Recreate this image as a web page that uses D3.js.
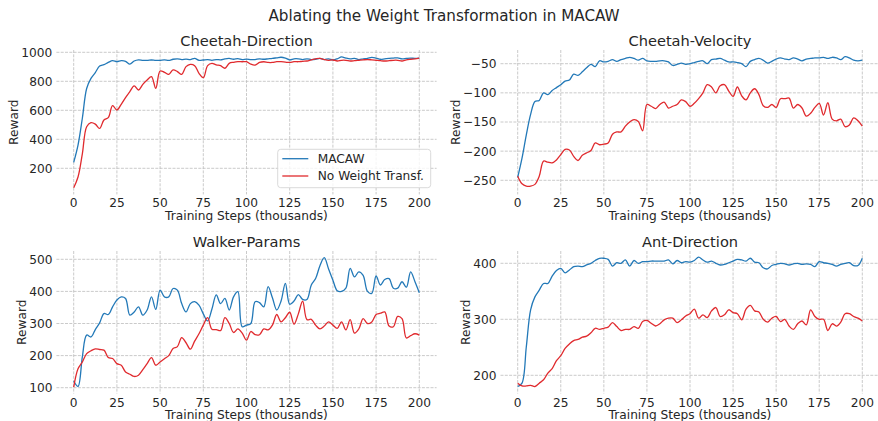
<!DOCTYPE html>
<html>
<head>
<meta charset="utf-8">
<script src="https://cdn.jsdelivr.net/npm/d3@7"></script>
<style>
  body { margin: 0; background: #fff; }
  text { font-family: "DejaVu Sans", sans-serif; fill: #262626; }
</style>
</head>
<body>
<div id="chart"></div>
<script>
// x positions of the logged points (thousands of training steps)
const steps = d3.range(0, 200.1, 2.5);
const xTicks = [0, 25, 50, 75, 100, 125, 150, 175, 200];
const seriesNames = ["MACAW", "No Weight Transf."];
const panelTitles = ["Cheetah-Direction", "Cheetah-Velocity", "Walker-Params", "Ant-Direction"];

// Cheetah-Direction
const cdMacaw = [241, 360, 545, 750, 820, 860, 905, 915, 930, 942,
  935, 942, 938, 918, 940, 948, 945, 944, 947, 944,
  945, 948, 944, 952, 955, 950, 953, 950, 958, 945,
  947, 950, 945, 950, 948, 955, 958, 952, 956, 950,
  953, 950, 950, 955, 952, 955, 958, 962, 966, 960,
  948, 955, 955, 950, 955, 950, 952, 958, 950, 955,
  948, 955, 968, 960, 955, 958, 950, 955, 958, 965,
  960, 952, 955, 958, 960, 962, 955, 958, 960, 958,
  960];
const cdNoWT = [66, 140, 300, 487, 515, 505, 475, 533, 549, 632,
  602, 641, 687, 729, 768, 740, 779, 809, 832, 752,
  871, 862, 848, 878, 867, 848, 901, 917, 908, 855,
  825, 908, 924, 913, 908, 890, 924, 931, 935, 935,
  935, 918, 912, 930, 935, 930, 930, 935, 935, 932,
  930, 935, 935, 938, 940, 948, 955, 958, 950, 945,
  947, 940, 945, 945, 940, 942, 945, 948, 950, 948,
  945, 942, 940, 942, 945, 945, 940, 948, 952, 955,
  960];
const yTicksCD = [200, 400, 600, 800, 1000];

// Cheetah-Velocity
const cvMacaw = [-245, -212, -172, -137, -115, -113, -100, -103, -96, -91,
  -86, -80, -78, -68, -70, -64, -57, -51, -55, -45,
  -47, -46, -43, -46, -43, -41, -39, -41, -44, -41,
  -45, -46, -46, -45, -45, -47, -53, -51, -49, -51,
  -50, -48, -46, -45, -50, -43, -42, -41, -44, -47,
  -47, -48, -50, -55, -46, -43, -41, -44, -49, -46,
  -42, -40, -42, -43, -40, -42, -45, -42, -41, -40,
  -40, -39, -41, -39, -40, -43, -38, -40, -44, -45,
  -44];
const cvNoWT = [-243, -256, -260, -260, -257, -243, -217, -219, -220, -215,
  -206, -197, -198, -209, -216, -207, -203, -199, -186, -189,
  -188, -186, -171, -167, -167, -157, -150, -146, -149, -165,
  -120, -123, -127, -120, -116, -126, -123, -120, -112, -115,
  -123, -118, -110, -100, -86, -90, -100, -88, -86, -97,
  -106, -90, -105, -112, -100, -93, -103, -122, -125, -120,
  -125, -110, -110, -109, -126, -120, -126, -140, -135, -125,
  -118, -138, -117, -145, -148, -145, -158, -155, -143, -148,
  -157];
const yTicksCV = [-250, -200, -150, -100, -50];

// Walker-Params
const wpMacaw = [121, 104, 196, 264, 258, 281, 302, 331, 328, 352,
  373, 383, 378, 326, 336, 352, 326, 342, 383, 344,
  404, 383, 383, 409, 404, 362, 336, 362, 368, 357,
  330, 308, 345, 389, 362, 378, 342, 383, 399, 290,
  295, 300, 368, 365, 352, 415, 380, 342, 370, 425,
  360, 370, 390, 375, 375, 420, 440, 480, 505, 470,
  435, 402, 400, 410, 472, 445, 461, 450, 400, 394,
  448, 420, 437, 440, 410, 410, 430, 413, 461, 430,
  396];
const wpNoWT = [102, 159, 180, 206, 215, 221, 219, 217, 194, 191,
  175, 170, 149, 142, 135, 139, 156, 175, 194, 170,
  180, 190, 200, 222, 228, 256, 240, 220, 245, 268,
  295, 318, 282, 281, 278, 318, 300, 272, 283, 270,
  248, 275, 265, 265, 283, 280, 295, 328, 305, 318,
  335, 298, 330, 370, 312, 313, 295, 283, 292, 305,
  295, 285, 305, 280, 312, 270, 283, 315, 300, 305,
  328, 332, 336, 292, 290, 322, 315, 255, 262, 268,
  264];
const yTicksWP = [100, 200, 300, 400, 500];

// Ant-Direction
const adMacaw = [180, 186, 251, 317, 340, 352, 364, 364, 377, 387,
  391, 383, 388, 394, 395, 394, 397, 400, 405, 409,
  409, 407, 395, 401, 400, 406, 395, 405, 400, 403,
  403, 404, 404, 404, 404, 406, 399, 405, 401, 403,
  402, 405, 411, 406, 402, 404, 400, 397, 398, 401,
  404, 407, 406, 404, 409, 402, 401, 392, 390, 396,
  398, 400, 399, 397, 399, 400, 398, 399, 398, 394,
  403, 401, 400, 398, 395, 398, 400, 401, 396, 396,
  409];
const adNoWT = [186, 181, 181, 182, 180, 186, 192, 204, 212, 226,
  235, 248, 256, 262, 264, 268, 270, 276, 284, 282,
  284, 286, 294, 287, 280, 282, 282, 287, 284, 296,
  298, 293, 288, 292, 299, 302, 302, 294, 299, 306,
  310, 318, 302, 308, 303, 315, 321, 305, 308, 317,
  312, 310, 299, 318, 325, 315, 313, 300, 295, 302,
  305, 296, 300, 288, 282, 292, 297, 290, 317, 305,
  300, 300, 280, 292, 288, 295, 310, 310, 305, 302,
  297];
const yTicksAD = [200, 300, 400];

const colors = ["#2379b8", "#e02a2e"];

const svg = d3
  .select("#chart")
  .append("svg")
  .attr("width", 878)
  .attr("height", 421);

// Figure title
svg
  .append("text")
  .attr("x", 444)
  .attr("y", 20.5)
  .attr("text-anchor", "middle")
  .attr("font-size", "15.2px")
  .text("Ablating the Weight Transformation in MACAW");

// Panel boxes (pixels); scales are pinned through two tick positions
const panels = [
  { title: panelTitles[0], series: [cdMacaw, cdNoWT], yTicks: yTicksCD,
    box: [56.4, 436.6, 50, 194.4], xr: [73.7, 419.3], yd: [200, 1000], yr: [168.3, 52.3],
    labelX: 17.5, legend: true },
  { title: panelTitles[1], series: [cvMacaw, cvNoWT], yTicks: yTicksCV,
    box: [500.5, 879.5, 50, 194.4], xr: [517.7, 862.3], yd: [-250, -50], yr: [180.3, 63.7],
    labelX: 459.5 },
  { title: panelTitles[2], series: [wpMacaw, wpNoWT], yTicks: yTicksWP,
    box: [56.4, 436.6, 251, 393.5], xr: [73.7, 419.3], yd: [100, 500], yr: [387.7, 259.3],
    labelX: 26 },
  { title: panelTitles[3], series: [adMacaw, adNoWT], yTicks: yTicksAD,
    box: [500.5, 879.5, 251, 393.5], xr: [517.7, 862.3], yd: [200, 400], yr: [375.3, 263.3],
    labelX: 469.5 },
];

panels.forEach((p) => {
  const [x0, x1, y0, y1] = p.box;
  const x = d3.scaleLinear().domain([0, 200]).range(p.xr);
  const y = d3.scaleLinear().domain(p.yd).range(p.yr);
  const g = svg.append("g");

  // dashed grid
  g.selectAll("line.hgrid")
    .data(p.yTicks)
    .enter()
    .append("line")
    .attr("x1", x0)
    .attr("x2", x1)
    .attr("y1", (d) => y(d))
    .attr("y2", (d) => y(d))
    .attr("stroke", "#bdbdbd")
    .attr("stroke-width", 0.8)
    .attr("stroke-dasharray", "3,1.3");

  g.selectAll("line.vgrid")
    .data(xTicks)
    .enter()
    .append("line")
    .attr("x1", (d) => x(d))
    .attr("x2", (d) => x(d))
    .attr("y1", y0)
    .attr("y2", y1)
    .attr("stroke", "#bdbdbd")
    .attr("stroke-width", 0.8)
    .attr("stroke-dasharray", "3,1.3");

  // tick labels
  g.selectAll("text.ytick")
    .data(p.yTicks)
    .enter()
    .append("text")
    .attr("x", x0 - 4)
    .attr("y", (d) => y(d) + 4.4)
    .attr("text-anchor", "end")
    .attr("font-size", "12.2px")
    .text((d) => d3.format("d")(d));

  g.selectAll("text.xtick")
    .data(xTicks)
    .enter()
    .append("text")
    .attr("x", (d) => x(d))
    .attr("y", y1 + 13)
    .attr("text-anchor", "middle")
    .attr("font-size", "12.2px")
    .text((d) => d);

  // axis labels + title
  g.append("text")
    .attr("x", (x0 + x1) / 2)
    .attr("y", y1 + 25.5)
    .attr("text-anchor", "middle")
    .attr("font-size", "12.2px")
    .text("Training Steps (thousands)");

  g.append("text")
    .attr("transform", `translate(${p.labelX}, ${(y0 + y1) / 2}) rotate(-90)`)
    .attr("text-anchor", "middle")
    .attr("font-size", "12.2px")
    .text("Reward");

  g.append("text")
    .attr("x", (x0 + x1) / 2)
    .attr("y", y0 - 4)
    .attr("text-anchor", "middle")
    .attr("font-size", "14.6px")
    .text(p.title);

  // the two curves
  const line = d3
    .line()
    .x((d, i) => x(steps[i]))
    .y((d) => y(d))
    .curve(d3.curveCatmullRom.alpha(0.5));

  p.series.forEach((s, k) => {
    g.append("path")
      .datum(s)
      .attr("d", line)
      .attr("fill", "none")
      .attr("stroke", colors[k])
      .attr("stroke-width", 1.3);
  });

  if (p.legend) {
    const lg = g.append("g");
    lg.append("rect")
      .attr("x", 277.7)
      .attr("y", 149.3)
      .attr("width", 153)
      .attr("height", 38.4)
      .attr("rx", 3)
      .attr("fill", "white")
      .attr("fill-opacity", 0.8)
      .attr("stroke", "#d0d0d0")
      .attr("stroke-width", 0.8);
    seriesNames.forEach((name, k) => {
      const ly = 158.7 + k * 17.3;
      lg.append("line")
        .attr("x1", 282.3)
        .attr("x2", 308.3)
        .attr("y1", ly)
        .attr("y2", ly)
        .attr("stroke", colors[k])
        .attr("stroke-width", 1.3);
      lg.append("text")
        .attr("x", 317.7)
        .attr("y", ly + 4.3)
        .attr("font-size", "12.2px")
        .text(name);
    });
  }
});
</script>
</body>
</html>
